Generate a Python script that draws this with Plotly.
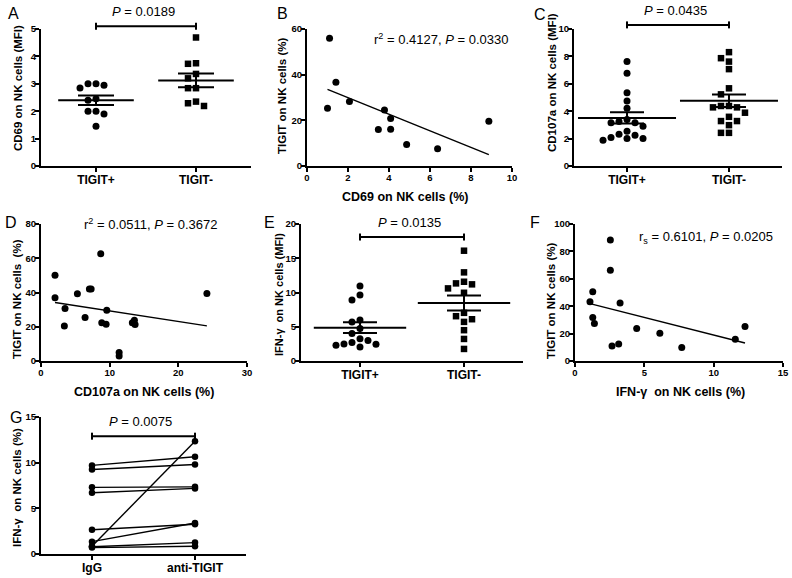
import numpy as np
import plotly.graph_objects as go

W, H = 792, 578
FONT = "Liberation Sans, Arial, sans-serif"

# ---------------- data ----------------
cats_tigit = ["TIGIT+", "TIGIT-"]
cats_g = ["IgG", "anti-TIGIT"]

# A: CD69 MFI
a_pos = [3.0, 2.95, 2.85, 3.0, 2.45, 2.4, 2.0, 1.9, 2.0, 1.45]
a_neg = [4.69, 3.73, 3.75, 3.36, 3.2, 2.84, 2.84, 2.35, 2.19, 2.29]
# B: CD69 % vs TIGIT %
b_x = [1.1, 1.41, 1.0, 2.07, 3.78, 4.08, 3.48, 4.08, 4.86, 6.37, 8.87]
b_y = [56.0, 36.7, 25.3, 28.2, 24.5, 20.8, 16.0, 16.1, 9.4, 7.5, 19.6]
# C: CD107a MFI
c_pos = [7.62, 6.77, 5.35, 4.74, 4.21, 3.15, 3.40, 3.15, 2.91, 2.54, 2.25, 2.01, 1.88, 2.01, 2.08, 2.32, 3.25]
c_neg = [8.31, 7.87, 7.62, 7.07, 5.67, 5.23, 4.38, 4.28, 4.28, 4.38, 3.89, 3.59, 3.28, 2.98, 3.28, 2.42, 2.42]
# D: CD107a % vs TIGIT %
d_x = [2.04, 2.04, 3.5, 3.4, 5.3, 6.42, 7.05, 7.3, 8.7, 8.85, 9.58, 9.48, 11.38, 11.38, 13.3, 13.6, 13.7, 24.16]
d_y = [50.1, 36.9, 30.6, 20.5, 39.2, 25.4, 42.1, 42.1, 62.6, 22.4, 29.7, 21.5, 4.9, 2.9, 22.4, 23.8, 21.3, 39.4]
# E: IFN-g MFI
e_pos = [10.95, 9.65, 8.9, 6.0, 5.7, 4.75, 4.0, 3.25, 2.7, 2.45, 2.05, 2.3, 2.5, 3.0]
e_neg = [16.1, 12.94, 11.33, 11.19, 11.57, 10.6, 9.96, 6.54, 6.1, 7.03, 5.71, 4.5, 3.22, 1.76]
# F: IFN-g % vs TIGIT %
f_x = [2.55, 2.55, 1.28, 1.08, 1.28, 1.4, 3.25, 2.67, 3.15, 4.45, 6.12, 7.7, 11.56, 12.26]
f_y = [88.3, 66.3, 50.5, 43.2, 31.7, 27.3, 42.4, 11.0, 12.4, 23.7, 20.2, 9.8, 15.9, 25.1]
# G: paired IgG vs anti-TIGIT
g_igg = [9.7, 9.25, 7.3, 6.7, 2.65, 1.35, 0.85, 0.8, 0.7]
g_anti = [10.65, 9.8, 7.35, 7.18, 3.25, 3.4, 12.35, 1.25, 0.85]

p_a, p_c, p_e, p_g = "0.0189", "0.0435", "0.0135", "0.0075"
stat_b = ("0.4127", "0.0330")
stat_d = ("0.0511", "0.3672")
stat_f = ("0.6101", "0.0205")

# ---------------- geometry (px) ----------------
geo = {
    1: dict(l=41, r=251, t=29, b=166, xr=[-0.55, 1.55], yr=[0, 5], dy=1),
    2: dict(l=307, r=512, t=29, b=166, xr=[0, 10], yr=[0, 60], dy=20, dx=2),
    3: dict(l=574, r=782, t=29, b=166, xr=[-0.52, 1.52], yr=[0, 10], dy=2),
    4: dict(l=41, r=247, t=224, b=361, xr=[0, 30], yr=[0, 80], dy=20, dx=10),
    5: dict(l=301, r=523, t=224, b=361, xr=[-0.567, 1.567], yr=[0, 20], dy=5),
    6: dict(l=575, r=783, t=224, b=361, xr=[0, 15], yr=[0, 100], dy=20, dx=5),
    7: dict(l=41, r=246, t=417, b=554, xr=[-0.495, 1.495], yr=[0, 15], dy=5),
}


def aid(n):
    return "" if n == 1 else str(n)


fig = go.Figure()
layout_axes = {}
for n, g in geo.items():
    common = dict(showline=True, linecolor="black", linewidth=2, ticks="outside",
                  ticklen=4, tickwidth=2, tickcolor="black", showgrid=False,
                  zeroline=False, fixedrange=True, automargin=False)
    xa = dict(common, domain=[g["l"] / W, g["r"] / W], range=g["xr"], anchor="y" + aid(n),
              ticklabelstandoff=-2)
    if "dx" in g:
        xa.update(tickmode="linear", tick0=0, dtick=g["dx"],
                  tickfont=dict(family=FONT, size=9.5, color="black", weight="bold"))
    else:
        xa.update(tickmode="array", tickvals=[0, 1],
                  ticktext=cats_g if n == 7 else cats_tigit,
                  tickfont=dict(family=FONT, size=12, color="black", weight="bold"))
    ya = dict(common, domain=[1 - g["b"] / H, 1 - g["t"] / H], range=g["yr"],
              anchor="x" + aid(n), tickmode="linear", tick0=0, dtick=g["dy"],
              ticklabelstandoff=-3,
              tickfont=dict(family=FONT, size=9.5, color="black", weight="bold"))
    layout_axes["xaxis" + aid(n)] = xa
    layout_axes["yaxis" + aid(n)] = ya


def swarm(vals, center, g, step_px=8.0, diam_px=7.0):
    ppx = (g["r"] - g["l"]) / (g["xr"][1] - g["xr"][0])
    ppy = (g["b"] - g["t"]) / (g["yr"][1] - g["yr"][0])
    order = sorted(range(len(vals)), key=lambda i: -vals[i])
    cand = [0]
    for m in range(1, 20):
        cand += [-m, m]
    placed = []
    xs = [0.0] * len(vals)
    for i in order:
        py = vals[i] * ppy
        for k in cand:
            if all(not (s == k and abs(py - q) < diam_px) for q, s in placed):
                break
        placed.append((py, k))
        xs[i] = center + k * step_px / ppx
    return xs


shapes = []
annotations = []


def dotplot(n, groups, mean_w, sem_w):
    g = geo[n]
    for ci, (vals, sym) in enumerate(groups):
        xs = swarm(vals, ci, g)
        fig.add_trace(go.Scatter(x=xs, y=vals, mode="markers", xaxis="x" + aid(n), yaxis="y" + aid(n),
                                 marker=dict(symbol=sym, size=7 if sym == "circle" else 6.5, color="black"),
                                 showlegend=False, hoverinfo="skip"))
        arr = np.array(vals)
        m = arr.mean()
        sem = arr.std(ddof=1) / np.sqrt(len(arr))
        fig.add_trace(go.Scatter(x=[ci], y=[m], mode="markers", xaxis="x" + aid(n), yaxis="y" + aid(n),
                                 marker=dict(symbol="line-ew", size=mean_w, color="black",
                                             line=dict(color="black", width=2)),
                                 error_y=dict(type="data", array=[sem], visible=True, color="black",
                                              thickness=2, width=sem_w),
                                 showlegend=False, hoverinfo="skip"))


def ptxt(px, py, text, size=12, angle=0, bold=True, xanchor="center"):
    annotations.append(dict(x=px / W, y=1 - py / H, xref="paper", yref="paper", text=text,
                            textangle=angle, showarrow=False, xanchor=xanchor, yanchor="middle",
                            font=dict(family=FONT, size=size, color="black",
                                      weight="bold" if bold else "normal")))


def bracket(n, yv, ptext, text_gap_px=14.5):
    g = geo[n]
    xr, yr = g["xr"], g["yr"]
    fx = lambda v: (v - xr[0]) / (xr[1] - xr[0])
    fy = lambda v: (v - yr[0]) / (yr[1] - yr[0])
    dt = 3.5 / (g["b"] - g["t"])
    base = dict(type="line", xref="x" + aid(n) + " domain", yref="y" + aid(n) + " domain",
                line=dict(color="black", width=2))
    shapes.append(dict(base, x0=fx(0), x1=fx(1), y0=fy(yv), y1=fy(yv)))
    for xv in (0, 1):
        shapes.append(dict(base, x0=fx(xv), x1=fx(xv), y0=fy(yv) - dt, y1=fy(yv) + dt))
    bx = g["l"] + fx(0.5) * (g["r"] - g["l"])
    by = g["b"] - fy(yv) * (g["b"] - g["t"])
    ptxt(bx - 3, by - text_gap_px, "<i>P</i> = " + ptext, size=13, bold=False)


def regplot(n, xs, ys):
    fig.add_trace(go.Scatter(x=xs, y=ys, mode="markers", xaxis="x" + aid(n), yaxis="y" + aid(n),
                             marker=dict(symbol="circle", size=7, color="black"),
                             showlegend=False, hoverinfo="skip"))
    k, b = np.polyfit(xs, ys, 1)
    lx = np.array([min(xs), max(xs)])
    fig.add_trace(go.Scatter(x=lx, y=k * lx + b, mode="lines", xaxis="x" + aid(n), yaxis="y" + aid(n),
                             line=dict(color="black", width=1.4), showlegend=False, hoverinfo="skip"))


dotplot(1, [(a_pos, "circle"), (a_neg, "square")], 54, 18)
dotplot(3, [(c_pos, "circle"), (c_neg, "square")], 70, 17)
dotplot(5, [(e_pos, "circle"), (e_neg, "square")], 66, 17)
regplot(2, b_x, b_y)
regplot(4, d_x, d_y)
regplot(6, f_x, f_y)

# G paired lines
gx, gy = [], []
for u, v in zip(g_igg, g_anti):
    gx += [0, 1, None]
    gy += [u, v, None]
fig.add_trace(go.Scatter(x=gx, y=gy, mode="lines+markers", xaxis="x7", yaxis="y7",
                         line=dict(color="black", width=1.4),
                         marker=dict(symbol="circle", size=6.5, color="black"),
                         showlegend=False, hoverinfo="skip"))

bracket(1, 5.1, p_a)
bracket(3, 10.3, p_c)
bracket(5, 18.1, p_e)
bracket(7, 12.9, p_g)

sfont = dict(family=FONT, size=13, color="black")
annotations.append(dict(x=3.17, y=55.7, xref="x2", yref="y2", xanchor="left", yanchor="middle",
                        text="r<sup>2</sup> = %s, <i>P</i> = %s" % stat_b, showarrow=False, font=sfont))
annotations.append(dict(x=16.0, y=80, xref="x4", yref="y4", xanchor="center", yanchor="middle",
                        text="r<sup>2</sup> = %s, <i>P</i> = %s" % stat_d, showarrow=False, font=sfont))
annotations.append(dict(x=9.44, y=89.8, xref="x6", yref="y6", xanchor="center", yanchor="middle",
                        text="r<sub>s</sub> = %s, <i>P</i> = %s" % stat_f, showarrow=False, font=sfont))

# panel letters
for letter, px, py in [("A", 13, 13), ("B", 282, 13), ("C", 540, 15), ("D", 11, 222),
                       ("E", 269, 222), ("F", 535, 222), ("G", 16, 417)]:
    ptxt(px, py, letter, size=16, bold=False)

# y titles
ptxt(18, 88, "CD69 on NK cells (MFI)", 11.5, -90)
ptxt(282, 96, "TIGIT on NK cells (%)", 11.5, -90)
ptxt(552, 83, "CD107a on NK cells (MFI)", 11.5, -90)
ptxt(17, 299, "TIGIT on NK cells\u00a0 (%)", 11.5, -90)
ptxt(279, 295, "IFN-\u03b3\u00a0 on NK cells (MFI)", 11, -90)
ptxt(551, 301, "TIGIT on NK cells (%)", 11.5, -90)
ptxt(17, 488, "IFN-\u03b3\u00a0 on NK cells (%)", 11.5, -90)
# x titles
ptxt(405, 197, "CD69 on NK cells (%)", 12.5)
ptxt(144, 392, "CD107a on NK cells (%)", 12.5)
ptxt(680, 392, "IFN-\u03b3\u00a0 on NK cells (%)", 12.5)

fig.update_layout(width=W, height=H, margin=dict(l=0, r=0, t=0, b=0, autoexpand=False),
                  plot_bgcolor="white", paper_bgcolor="white", showlegend=False,
                  shapes=shapes, annotations=annotations, **layout_axes)

fig.write_html("out.html", config={"displayModeBar": False},
               post_script="document.body.style.margin='0px';document.body.style.overflow='hidden';")
